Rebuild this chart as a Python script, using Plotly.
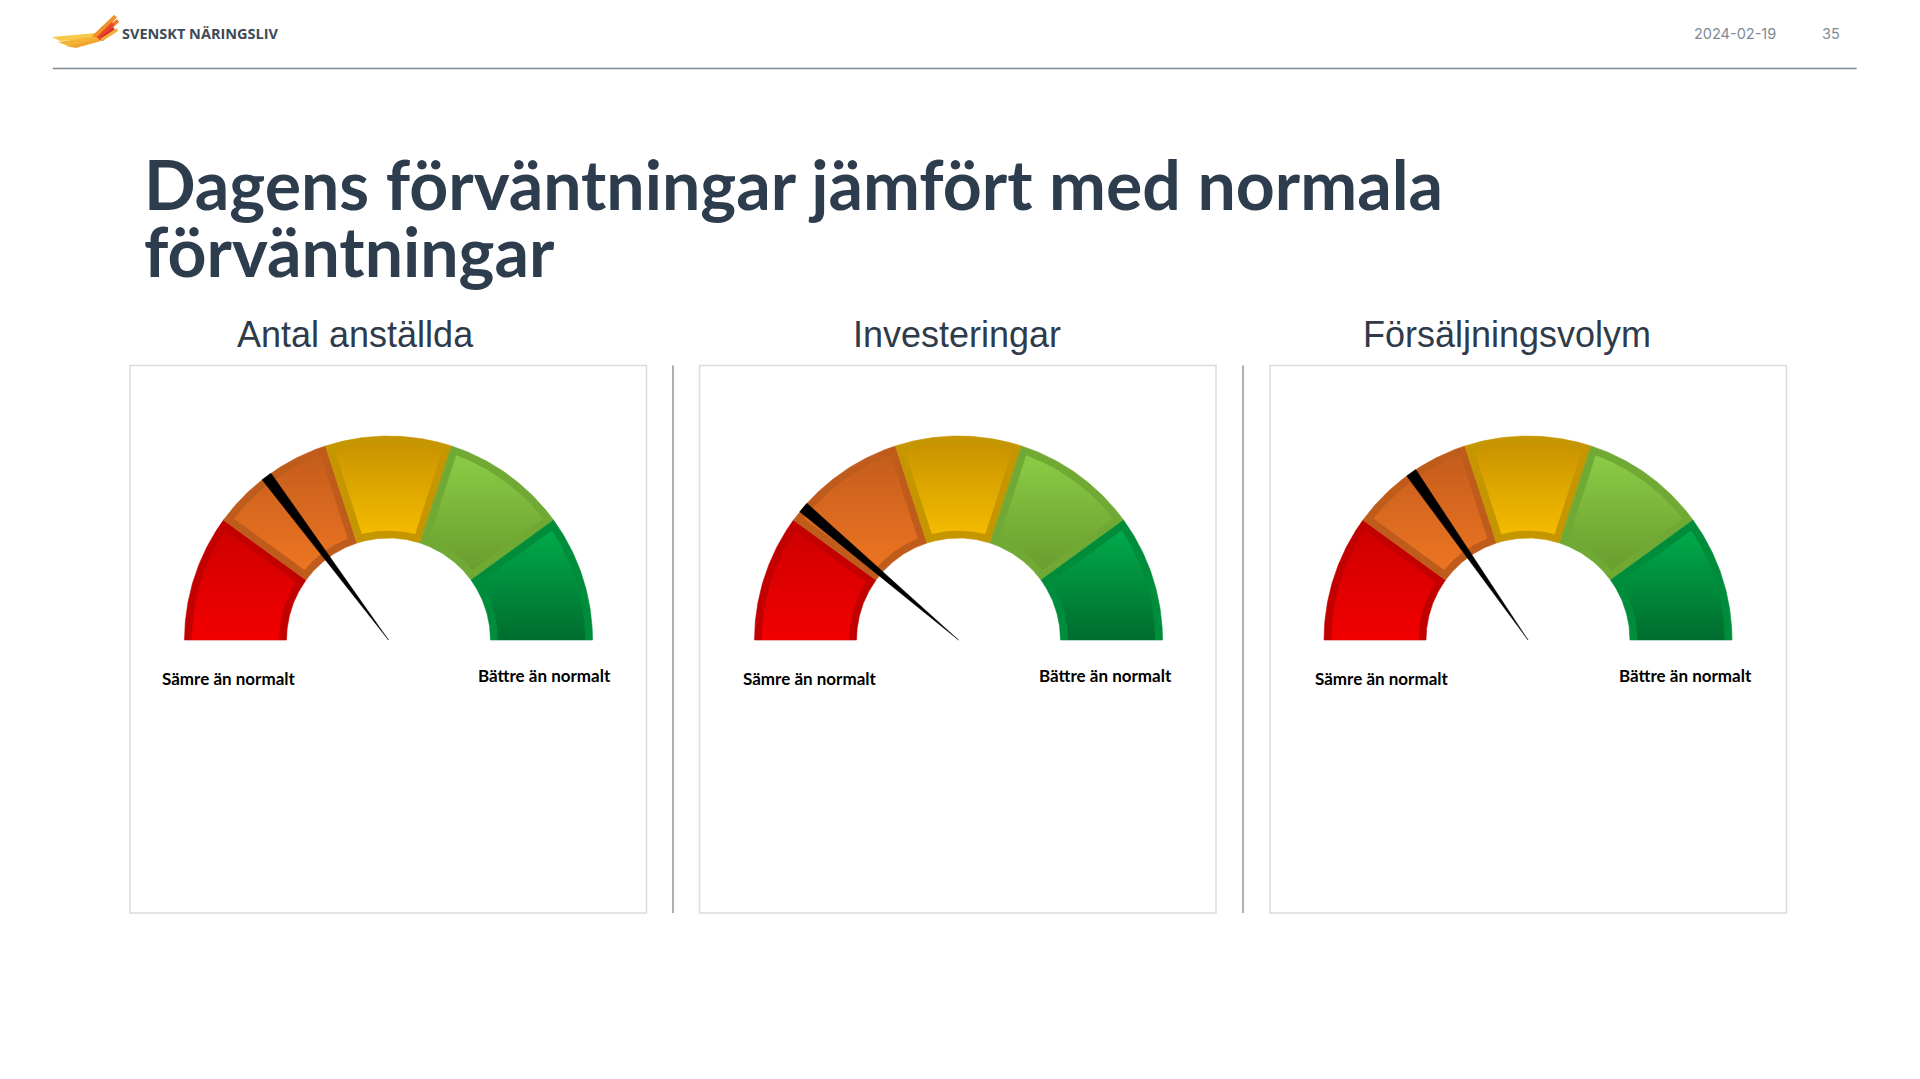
import numpy as np
import plotly.graph_objects as go

W, H = 1920, 1079

# ---------------- data ----------------
title_line1 = "Dagens förväntningar jämfört med normala"
title_line2 = "förväntningar"
gauge_names = ["Antal anställda", "Investeringar", "Försäljningsvolym"]
gauge_values = [29.6, 22.5, 30.6]          # 0 = Sämre än normalt, 100 = Bättre än normalt
band_edges = [0, 20, 40, 60, 80, 100]
band_border = ["#C20000", "#BF5B1B", "#C69600", "#70A934", "#008D3B"]
band_top = ["#CF0000", "#C65D1D", "#C99300", "#8BCB45", "#00AA4B"]
band_bottom = ["#F20000", "#EC7521", "#F5BB00", "#6A9D2F", "#006D2E"]
low_label = "Sämre än normalt"
high_label = "Bättre än normalt"
date_text = "2024-02-19"
page_text = "35"
brand_text = "SVENSKT NÄRINGSLIV"

# ---------------- layout constants ----------------
gauge_cx = [388.5, 958.5, 1528.0]
gauge_cy = 640.0
R = 204.0
r_inner = 0.5
band_w = 0.036
panel_x = [(130, 646.5), (699.5, 1216), (1270, 1786.5)]
panel_y = (365.5, 913)
sep_x = [673, 1243]
name_x = [355.5, 956.5, 1507]
low_dx = [-160, -149, -146.5]
high_dx = [156, 147.3, 157.2]

SLATE = "#2E3D4D"


def px(x):
    return x / W


def py(y):
    return 1 - y / H


def ang(v):
    return np.pi * (1 - v / 100.0)


def sector(v0, v1, r1, r2, w=0.0, inset_start=True, inset_end=True, n=60):
    a0, a1 = ang(v0), ang(v1)
    ro, ri = r2 - w, r1 + w

    def d(r, flag):
        return np.arcsin(w / r) if (flag and w > 0) else 0.0

    ta = np.linspace(a0 - d(ro, inset_start), a1 + d(ro, inset_end), n)
    tb = np.linspace(a1 + d(ri, inset_end), a0 - d(ri, inset_start), n)
    xs = np.concatenate([ro * np.cos(ta), ri * np.cos(tb)])
    ys = np.concatenate([ro * np.sin(ta), ri * np.sin(tb)])
    xs = np.append(xs, xs[0])
    ys = np.append(ys, ys[0])
    ys = np.where(np.abs(ys) < 1e-9, 0, ys)
    return xs, ys


fig = go.Figure()
layout_axes = {}
pad = 0.06

for gi, (name, val) in enumerate(zip(gauge_names, gauge_values)):
    ax_id = "" if gi == 0 else str(gi + 1)
    xa, ya = "x" + ax_id, "y" + ax_id
    cx = gauge_cx[gi]
    layout_axes["xaxis" + ax_id] = dict(
        domain=[px(cx - (1 + pad) * R), px(cx + (1 + pad) * R)],
        range=[-(1 + pad), 1 + pad], visible=False, fixedrange=True)
    layout_axes["yaxis" + ax_id] = dict(
        domain=[py(gauge_cy + pad * R), py(gauge_cy - (1 + pad) * R)],
        range=[-pad, 1 + pad], visible=False, fixedrange=True)

    nb = len(band_edges) - 1
    for bi in range(nb):
        v0, v1 = band_edges[bi], band_edges[bi + 1]
        xs, ys = sector(v0, v1, r_inner, 1.0)
        fig.add_trace(go.Scatter(
            x=xs, y=ys, mode="lines", fill="toself", fillcolor=band_border[bi],
            line=dict(width=0.6, color=band_border[bi]), hoverinfo="skip",
            showlegend=False, xaxis=xa, yaxis=ya))
        xs2, ys2 = sector(v0, v1, r_inner, 1.0, band_w,
                          inset_start=(bi != 0), inset_end=(bi != nb - 1))
        fig.add_trace(go.Scatter(
            x=xs2, y=ys2, mode="lines", fill="toself",
            fillgradient=dict(type="vertical",
                              colorscale=[[0, band_bottom[bi]], [1, band_top[bi]]]),
            line=dict(width=0), hoverinfo="skip",
            showlegend=False, xaxis=xa, yaxis=ya))

    # needle
    th = ang(val)
    ux, uy = np.cos(th), np.sin(th)
    qx, qy = -np.sin(th), np.cos(th)
    hw = 0.027
    nx = [0.0, ux + qx * hw, ux - qx * hw, 0.0]
    ny = [0.0, uy + qy * hw, uy - qy * hw, 0.0]
    fig.add_trace(go.Scatter(
        x=nx, y=ny, mode="lines", fill="toself", fillcolor="#000000",
        line=dict(width=0.5, color="#000000"), hoverinfo="skip",
        showlegend=False, xaxis=xa, yaxis=ya))

shapes = []
# panels
for (x0, x1) in panel_x:
    shapes.append(dict(type="rect", xref="paper", yref="paper",
                       x0=px(x0), x1=px(x1), y0=py(panel_y[1]), y1=py(panel_y[0]),
                       line=dict(color="#DCDCDC", width=1.5), fillcolor="rgba(0,0,0,0)",
                       layer="below"))
for sx in sep_x:
    shapes.append(dict(type="line", xref="paper", yref="paper",
                       x0=px(sx), x1=px(sx), y0=py(panel_y[0]), y1=py(panel_y[1]),
                       line=dict(color="#A9B0B8", width=2)))
# header rule
shapes.append(dict(type="line", xref="paper", yref="paper",
                   x0=px(52.7), x1=px(1856.7), y0=py(68.5), y1=py(68.5),
                   line=dict(color="#7D8893", width=1.6)))

# logo wing (decorative feathers)
feathers = [
    ("#F7C948", [(52, 37), (96, 33), (99, 38), (60, 41)]),
    ("#F5B335", [(58, 42), (98, 36), (100, 40), (68, 46)]),
    ("#F2A52C", [(66, 46), (99, 39), (101, 41), (76, 48)]),
    ("#F0902A", [(92, 36), (114, 15), (117, 17), (99, 39)]),
    ("#EE7A26", [(96, 37), (117, 19), (119, 22), (100, 40)]),
    ("#E8452A", [(97, 37), (112, 22), (114, 25), (101, 40)]),
    ("#DD2A2A", [(99, 39), (113, 27), (115, 30), (102, 41)]),
    ("#F4B13A", [(100, 39), (117, 28), (118, 31), (103, 41)]),
]
for col, pts in feathers:
    path = "M " + " L ".join(f"{px(x):.5f},{py(y):.5f}" for x, y in pts) + " Z"
    shapes.append(dict(type="path", xref="paper", yref="paper", path=path,
                       fillcolor=col, line=dict(width=0)))

annotations = []


def add_text(text, x, y, size, color, family, xanchor="left", weight="normal"):
    annotations.append(dict(text=text, x=px(x), y=py(y), xref="paper", yref="paper",
                            xanchor=xanchor, yanchor="middle", showarrow=False,
                            font=dict(size=size, color=color, family=family, weight=weight)))


add_text(brand_text, 120, 33, 14.5, "#3E4A57", "Open Sans", weight="bold")
add_text(date_text, 1777.7, 33, 14.5, "#7F8A95", "Inter", xanchor="right")
add_text(page_text, 1842, 33, 14.5, "#7F8A95", "Inter", xanchor="right")

add_text(title_line1, 142, 184, 68, SLATE, "Lato", weight="bold")
add_text(title_line2, 142, 250, 68, SLATE, "Lato", weight="bold")

for gi, name in enumerate(gauge_names):
    add_text(name, name_x[gi], 334, 36, "#2F3B4A", "Liberation Sans", xanchor="center")
    add_text(low_label, gauge_cx[gi] + low_dx[gi], 678, 17, "#000000", "Lato",
             xanchor="center", weight="bold")
    add_text(high_label, gauge_cx[gi] + high_dx[gi], 675.5, 17, "#000000", "Lato",
             xanchor="center", weight="bold")

fig.update_layout(
    width=W, height=H, margin=dict(l=0, r=0, t=0, b=0),
    paper_bgcolor="white", plot_bgcolor="rgba(0,0,0,0)",
    shapes=shapes, annotations=annotations, showlegend=False,
    **layout_axes)

fig.write_html("out.html", config={"displayModeBar": False},
               post_script="document.body.style.margin='0';document.body.style.overflow='hidden';")
